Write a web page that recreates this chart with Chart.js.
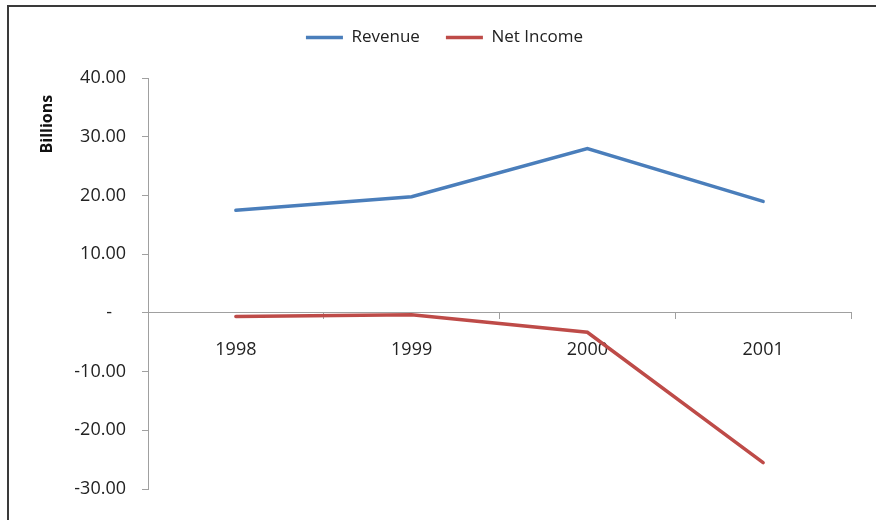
<!DOCTYPE html>
<html>
<head>
<meta charset="utf-8">
<script src="https://cdn.jsdelivr.net/npm/chart.js@4"></script>
<style>
    body { margin: 0; background: #fff; }
    #wrap { position: relative; width: 876px; height: 520px; overflow: hidden; }
    #frame { position: absolute; left: 7px; top: 5px; width: 900px; height: 600px; border-top: 2px solid #3a3a3a; border-left: 2px solid #3a3a3a; }
    #grafico { position: absolute; left: 0; top: 0; }
</style>
</head>
<body>
<div id="wrap">
    <div id="frame"></div>
    <canvas id="grafico" width="876" height="520"></canvas>
</div>
<script>
const anios = ['1998', '1999', '2000', '2001'];
const revenue = [17.5, 19.8, 28.0, 19.0];
const netIncome = [-0.6, -0.3, -3.3, -25.5];
const yMin = -30;
const yMax = 40;
const yPaso = 10;

const fuente = "'Open Sans', 'Liberation Sans', sans-serif";
const gris = '#a0a0a0';

function GraficoBillions() {
    const ctx = document.getElementById('grafico').getContext('2d');
    new Chart(ctx, {
        type: 'line',
        data: {
            labels: anios,
            datasets: [{
                label: 'Revenue',
                data: revenue,
                borderColor: '#4a7ebb',
                backgroundColor: '#4a7ebb',
                borderWidth: 3.5,
                borderCapStyle: 'round',
                pointRadius: 0,
                tension: 0
            }, {
                label: 'Net Income',
                data: netIncome,
                borderColor: '#be4b48',
                backgroundColor: '#be4b48',
                borderWidth: 3.5,
                borderCapStyle: 'round',
                pointRadius: 0,
                tension: 0
            }]
        },
        options: {
            responsive: false,
            animation: false,
            layout: { padding: { top: 3, left: 38, right: 25, bottom: 31 } },
            plugins: {
                legend: {
                    labels: {
                        usePointStyle: true,
                        pointStyle: 'line',
                        pointStyleWidth: 37,
                        padding: 26,
                        color: '#222',
                        font: { family: fuente, size: 17 }
                    }
                },
                // titulo vacio, solo para dejar aire bajo la leyenda
                title: {
                    display: true,
                    text: '',
                    weight: 500,
                    padding: { top: 0, bottom: 15 },
                    font: { size: 6 }
                },
                tooltip: { enabled: false }
            },
            scales: {
                x: {
                    position: { y: 0 },
                    offset: true,
                    grid: { offset: true, drawOnChartArea: false, tickLength: 6, color: gris },
                    border: { color: gris, width: 1 },
                    ticks: { color: '#222', padding: 20, font: { family: fuente, size: 18 } }
                },
                y: {
                    min: yMin,
                    max: yMax,
                    afterFit: function (scale) { scale.width = 110; },
                    grid: { drawOnChartArea: false, tickLength: 6, color: gris },
                    border: { color: gris, width: 1 },
                    title: {
                        display: true,
                        text: 'Billions    ',
                        align: 'end',
                        color: '#111',
                        padding: 0,
                        font: { family: fuente, size: 16, weight: 'bold' }
                    },
                    ticks: {
                        stepSize: yPaso,
                        color: '#222',
                        padding: 16,
                        font: { family: fuente, size: 18 },
                        callback: function (valor) {
                            if (valor === 0) return '-   ';
                            return valor.toFixed(2);
                        }
                    }
                }
            }
        }
    });
}
GraficoBillions();
</script>
</body>
</html>
